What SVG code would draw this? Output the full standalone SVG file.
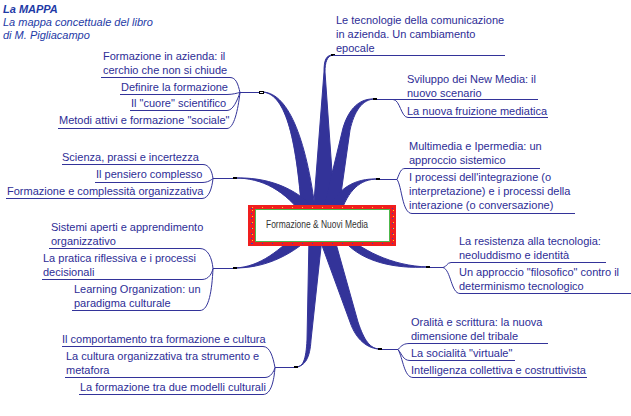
<svg xmlns="http://www.w3.org/2000/svg" width="631" height="416" viewBox="0 0 631 416">
<style>
text{font-family:"Liberation Sans",Arial,sans-serif;font-size:11px;fill:#2d2d96}
.ti{fill:#1e3aa6;font-style:italic}
.ul{stroke:#333399;stroke-width:1;fill:none}
.cn{stroke:#333399;stroke-width:1;fill:none}
.br{fill:#333399;stroke:#333399;stroke-width:1;stroke-linejoin:round}
.dt{fill:#000}
</style>
<rect width="631" height="416" fill="#fff"/>
<g id="title">
<text class="ti" x="3" y="13" font-weight="bold">La MAPPA</text>
<text class="ti" x="3" y="26">La mappa concettuale del libro</text>
<text class="ti" x="3" y="39">di M. Pigliacampo</text>
</g>
<g id="connectors">
<path class="br" d="M261,92 C285,92 296,135 302,215 L316,215 C306,135 287,91 261,92 Z"/>
<path class="br" d="M333,55 C326,55 324,60 324,72 L313,215 L335,215 L325,72 C325,62 327,56 333,55 Z"/>
<path class="br" d="M375,99 C362,99 354,112 350,130 L338,215 L322,215 L343,128 C349,108 360,98 375,99 Z"/>
<path class="br" d="M235,178 C262,178 285,190 305,218 L318,212 C295,186 265,177 235,178 Z"/>
<path class="br" d="M378,179 C360,179 348,190 340,215 L326,215 C336,188 355,178 378,179 Z"/>
<path class="br" d="M235,268 C262,268 288,258 312,236 L300,230 C280,250 260,267 235,268 Z"/>
<path class="br" d="M428,267 C395,269 363,262 345,242 L340,230 C360,250 392,266 428,267 Z"/>
<path class="br" d="M296,367 C303,367 306,360 307,340 L309,238 L322,238 L311,340 C310,358 305,366 296,367 Z"/>
<path class="br" d="M380,349 C370,349 364,340 358,322 L335,240 L320,240 L350,322 C356,340 368,349 380,349 Z"/>
<path class="cn" d="M230,77.5 C236,77.5 238,84 240,92.5 M227,94.5 C233,94.5 237,93 240,92.5 M227,110.5 C233,110.5 237,101 240,92.5 M227,128.5 C234,128.5 238,110 240,92.5 M240,92.5 H261"/>
<path class="cn" d="M203,164.5 C209,164.5 212,171 213,178.5 M202,182.5 C208,182.5 211,180 213,178.5 M202,198.5 C209,198.5 212,188 213,178.5 M213,178.5 H235"/>
<path class="cn" d="M200,248.5 C208,248.5 212,258 213,268.5 M202,279.5 C209,279.5 212,273 213,268.5 M200,310.5 C209,310.5 212,290 213,268.5 M213,268.5 H235"/>
<path class="cn" d="M263,346.5 C270,346.5 273,357 275,367.5 M265,377.5 C271,377.5 274,371 275,367.5 M263,394.5 C271,394.5 274,381 275,367.5 M275,367.5 H296"/>
<path class="cn" d="M375,99.5 H393 M393,99.5 C400,99.5 401,117.5 408,117.5"/>
<path class="cn" d="M378,179.5 H397 M397,179.5 C400,172 401,168.5 405,168.5 M397,179.5 C402,186 402,213.5 412,213.5"/>
<path class="cn" d="M428,267.5 H443 M443,267.5 C446,267.5 447,262.5 451,262.5 M443,267.5 C451,270 451,293.5 460,293.5"/>
<path class="cn" d="M380,349.5 H398 M398,349.5 C402,345 404,343.5 410,343.5 M398,349.5 C402,354 403,360.5 410,360.5 M398,349.5 C403,358 404,377.5 413,377.5"/>
<rect x="259.5" y="91.5" width="4" height="2" fill="#fff" stroke="#000" stroke-width="1"/>
<rect class="dt" x="331" y="54" width="4" height="2"/>
<rect class="dt" x="373" y="98" width="4" height="2"/>
<rect class="dt" x="233" y="177" width="4" height="2"/>
<rect class="dt" x="376" y="178" width="4" height="2"/>
<rect class="dt" x="233" y="267" width="4" height="2"/>
<rect class="dt" x="426" y="266" width="4" height="2"/>
<rect class="dt" x="294" y="366" width="4" height="2"/>
<rect class="dt" x="378" y="348" width="4" height="2"/>
</g>
<g id="center">
<rect x="248" y="205" width="148" height="41" fill="#f01e1e"/>
<line x1="251.5" y1="208" x2="251.5" y2="244" stroke="#2244cc" stroke-dasharray="1 4"/>
<line x1="252.5" y1="210" x2="252.5" y2="244" stroke="#ffd21e" stroke-dasharray="1 5"/>
<line x1="392.5" y1="208" x2="392.5" y2="244" stroke="#2244cc" stroke-dasharray="1 4"/>
<line x1="393.5" y1="210" x2="393.5" y2="244" stroke="#ffd21e" stroke-dasharray="1 5"/>
<line x1="252" y1="207.5" x2="392" y2="207.5" stroke="#ffd21e" stroke-dasharray="1 9"/>
<line x1="252" y1="243.5" x2="392" y2="243.5" stroke="#2244cc" stroke-dasharray="1 9"/>
<rect x="255.5" y="209.5" width="134" height="32" fill="#fff" stroke="#4cb84c"/>
<text x="266" y="228" font-size="10" style="fill:#333" textLength="102" lengthAdjust="spacingAndGlyphs">Formazione &amp; Nuovi Media</text>
</g>
<g id="n1"><text x="336" y="24">Le tecnologie della comunicazione</text><text x="336" y="38">in azienda. Un cambiamento</text><text x="336" y="52">epocale</text><path class="ul" d="M333,55.5 H505"/></g>
<g id="n2"><text x="407" y="83">Sviluppo dei New Media: il</text><text x="407" y="97">nuovo scenario</text><path class="ul" d="M393,99.5 H538"/></g>
<g id="n3"><text x="407" y="115">La nuova fruizione mediatica</text><path class="ul" d="M408,117.5 H548"/></g>
<g id="n4"><text x="409" y="150">Multimedia e Ipermedia: un</text><text x="409" y="164">approccio sistemico</text><path class="ul" d="M405,168.5 H540"/></g>
<g id="n5"><text x="409" y="181">I processi dell'integrazione (o</text><text x="409" y="195">interpretazione) e i processi della</text><text x="409" y="209">interazione (o conversazione)</text><path class="ul" d="M412,213.5 H575"/></g>
<g id="n6"><text x="459" y="245">La resistenza alla tecnologia:</text><text x="459" y="259">neoluddismo e identità</text><path class="ul" d="M451,262.5 H606"/></g>
<g id="n7"><text x="459" y="276">Un approccio "filosofico" contro il</text><text x="459" y="290">determinismo tecnologico</text><path class="ul" d="M460,293.5 H631"/></g>
<g id="n8"><text x="411" y="326">Oralità e scrittura: la nuova</text><text x="411" y="340">dimensione del tribale</text><path class="ul" d="M410,343.5 H548"/></g>
<g id="n9"><text x="411" y="357">La socialità "virtuale"</text><path class="ul" d="M410,360.5 H515"/></g>
<g id="n10"><text x="411" y="374">Intelligenza collettiva e costruttivista</text><path class="ul" d="M413,377.5 H587"/></g>
<g id="n11"><text x="62" y="343">Il comportamento tra formazione e cultura</text><path class="ul" d="M62,346.5 H263"/></g>
<g id="n12"><text x="66" y="360">La cultura organizzativa tra strumento e</text><text x="66" y="374">metafora</text><path class="ul" d="M65,377.5 H265"/></g>
<g id="n13"><text x="80" y="391">La formazione tra due modelli culturali</text><path class="ul" d="M79,394.5 H263"/></g>
<g id="n14"><text x="51" y="231">Sistemi aperti e apprendimento</text><text x="51" y="245">organizzativo</text><path class="ul" d="M49,248.5 H200"/></g>
<g id="n15"><text x="43" y="262">La pratica riflessiva e i processi</text><text x="43" y="276">decisionali</text><path class="ul" d="M42,279.5 H202"/></g>
<g id="n16"><text x="74" y="293">Learning Organization: un</text><text x="74" y="307">paradigma culturale</text><path class="ul" d="M72,310.5 H200"/></g>
<g id="n17"><text x="62" y="161">Scienza, prassi e incertezza</text><path class="ul" d="M62,164.5 H203"/></g>
<g id="n18"><text x="96" y="178">Il pensiero complesso</text><path class="ul" d="M95,182.5 H202"/></g>
<g id="n19"><text x="7" y="195">Formazione e complessità organizzativa</text><path class="ul" d="M6,198.5 H202"/></g>
<g id="n20"><text x="103" y="60">Formazione in azienda: il</text><text x="103" y="74">cerchio che non si chiude</text><path class="ul" d="M101,77.5 H230"/></g>
<g id="n21"><text x="121" y="91">Definire la formazione</text><path class="ul" d="M120,94.5 H227"/></g>
<g id="n22"><text x="131" y="107">Il "cuore" scientifico</text><path class="ul" d="M130,110.5 H227"/></g>
<g id="n23"><text x="59" y="124">Metodi attivi e formazione "sociale"</text><path class="ul" d="M58,128.5 H227"/></g>
</svg>
